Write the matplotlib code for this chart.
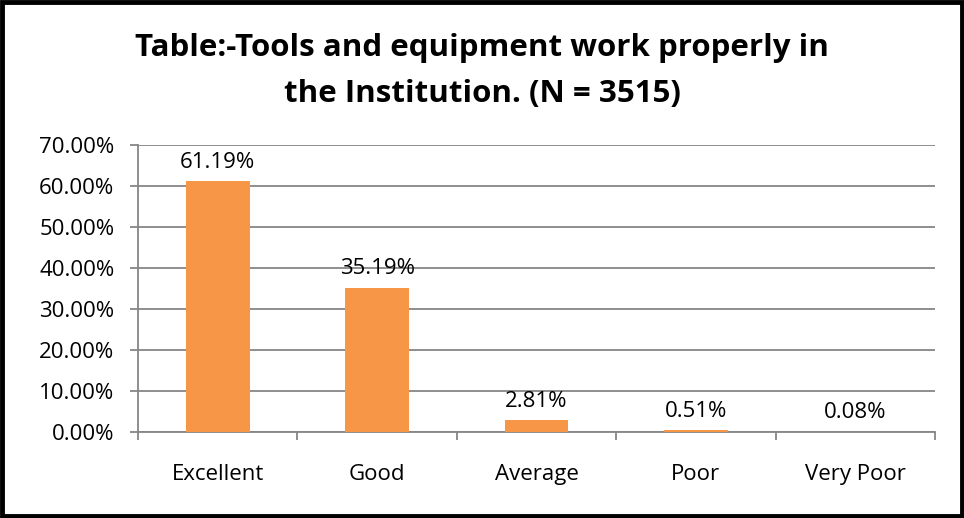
import matplotlib.pyplot as plt
from matplotlib.patches import Rectangle
from matplotlib.ticker import FuncFormatter, FixedLocator

categories = ['Excellent', 'Good', 'Average', 'Poor', 'Very Poor']
values = [61.19, 35.19, 2.81, 0.51, 0.08]
title = 'Table:-Tools and equipment work properly in\nthe Institution. (N = 3515)'

plt.rcParams['font.family'] = ['Open Sans', 'DejaVu Sans']

fig = plt.figure(figsize=(9.64, 5.18), dpi=100)
ax = fig.add_axes([138/964, 1-432/518, (935-138)/964, (432-145)/518])

x = range(len(categories))
ax.bar(x, values, width=0.4, color='#F79646', zorder=3)

for i, v in enumerate(values):
    ax.annotate('%.2f%%' % v, (i, v), xytext=(0, 6), textcoords='offset points',
                ha='center', va='bottom', fontsize=16)

ax.set_xlim(-0.5, len(categories) - 0.5)
ax.set_ylim(0, 70)
ax.set_yticks(range(0, 71, 10))
ax.yaxis.set_major_formatter(FuncFormatter(lambda v, p: '%.2f%%' % v))
ax.yaxis.grid(True, color='#868686', linewidth=1.3, zorder=0)

ax.set_xticks(list(x))
ax.set_xticklabels(categories)
ax.xaxis.set_minor_locator(FixedLocator([i - 0.5 for i in range(len(categories) + 1)]))
ax.tick_params(axis='x', which='major', length=0, pad=23, labelsize=16)
ax.tick_params(axis='x', which='minor', length=6, color='#868686', width=1.3)
ax.tick_params(axis='y', length=6, color='#868686', width=1.3, labelsize=16, pad=11)

for s in ['top', 'right']:
    ax.spines[s].set_visible(False)
for s in ['left', 'bottom']:
    ax.spines[s].set_color('#868686')
    ax.spines[s].set_linewidth(1.3)

fig.text(0.5, 1-71/518, title, ha='center', va='center', fontsize=22.5,
         fontweight='bold', linespacing=1.7)

fig.patches.append(Rectangle((0.002, 0.004), 0.996, 0.993, transform=fig.transFigure,
                             fill=False, edgecolor='black', linewidth=3.5))

fig.savefig('out.png', dpi=100)
